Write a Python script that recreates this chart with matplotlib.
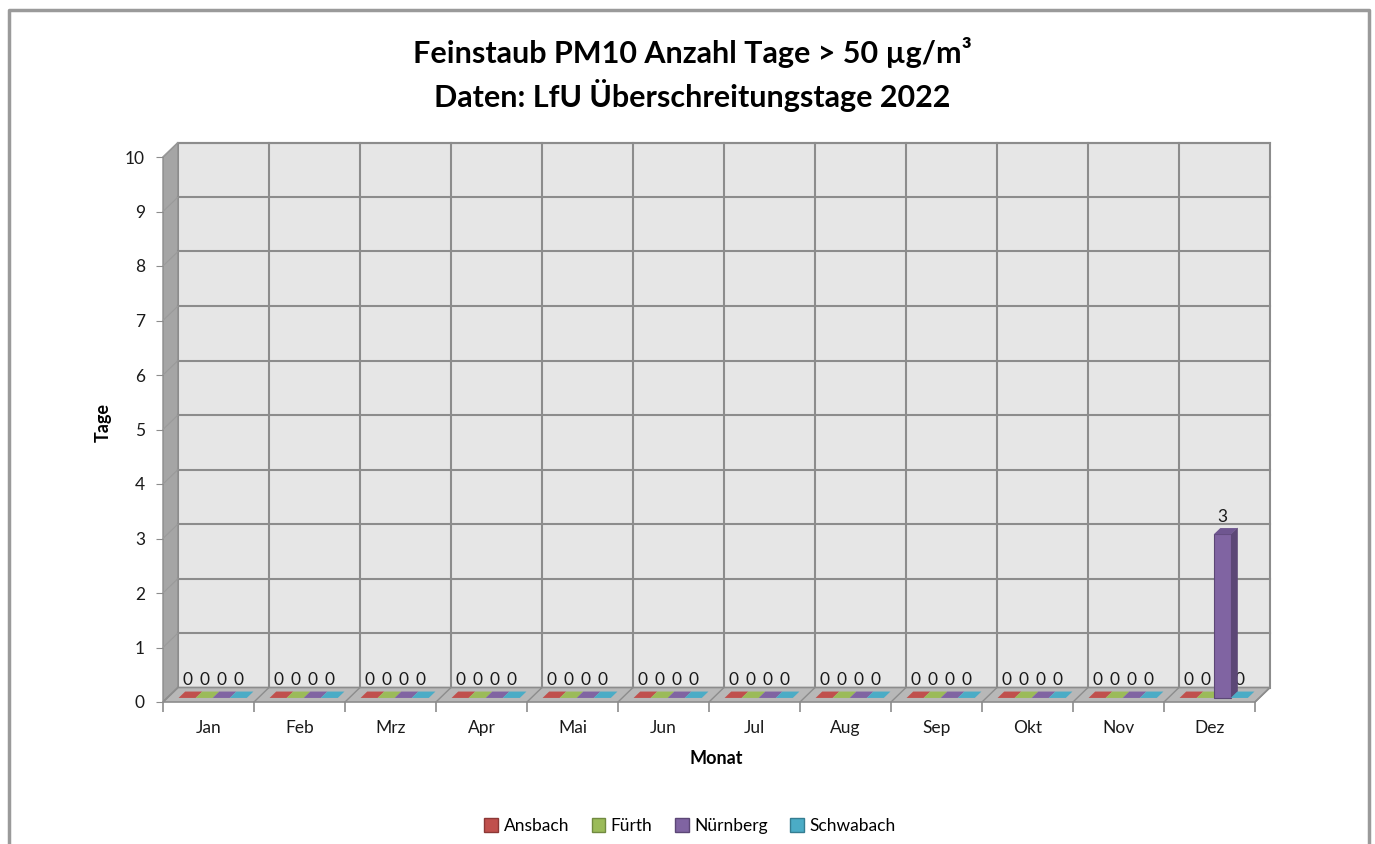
import matplotlib.pyplot as plt
from matplotlib.patches import Polygon, Rectangle, Patch
from matplotlib.lines import Line2D

plt.rcParams['font.family'] = ['Lato', 'DejaVu Sans']

monate = ['Jan', 'Feb', 'Mrz', 'Apr', 'Mai', 'Jun', 'Jul', 'Aug', 'Sep', 'Okt', 'Nov', 'Dez']
staedte = ['Ansbach', 'Fürth', 'Nürnberg', 'Schwabach']
ansbach = [0, 0, 0, 0, 0, 0, 0, 0, 0, 0, 0, 0]
fuerth = [0, 0, 0, 0, 0, 0, 0, 0, 0, 0, 0, 0]
nuernberg = [0, 0, 0, 0, 0, 0, 0, 0, 0, 0, 0, 3]
schwabach = [0, 0, 0, 0, 0, 0, 0, 0, 0, 0, 0, 0]
werte = [ansbach, fuerth, nuernberg, schwabach]

farben = ['#c0504d', '#9bbb59', '#8064a2', '#4bacc6']
seiten = ['#8c3836', '#718a40', '#5c4776', '#357d91']
oben = ['#a8413f', '#87a34c', '#6f5690', '#3f98b0']

W, H = 1375, 844
fig = plt.figure(figsize=(W / 100, H / 100), dpi=100)

# front plane of the 3d box in pixels
x0p, x1p, y0p, y1p = 163, 1255, 702, 157
ax = fig.add_axes([x0p / W, (H - y0p) / H, (x1p - x0p) / W, (y0p - y1p) / H])
ax.set_xlim(0, 12)
ax.set_ylim(0, 10)
for s in ax.spines.values():
    s.set_visible(False)
ax.patch.set_visible(False)

# depth of the box in data units
DX = 15 / ((x1p - x0p) / 12)
DY = 14.5 / ((y0p - y1p) / 10)

grid_c = '#8c8c8c'
# back wall
ax.add_patch(Rectangle((DX, DY), 12, 10, facecolor='#e6e6e6', edgecolor=grid_c, lw=1.5, clip_on=False, zorder=1))
# left wall
ax.add_patch(Polygon([(0, 0), (DX, DY), (DX, 10 + DY), (0, 10)], closed=True,
                     facecolor='#a5a5a5', edgecolor=grid_c, lw=1, clip_on=False, zorder=1))
# floor
ax.add_patch(Polygon([(0, 0), (12, 0), (12 + DX, DY), (DX, DY)], closed=True,
                     facecolor='#b8b8b8', edgecolor=grid_c, lw=1.2, clip_on=False, zorder=2))
for k in range(1, 11):
    ax.add_line(Line2D([DX, 12 + DX], [k + DY, k + DY], color=grid_c, lw=1.5, clip_on=False, zorder=1.5))
    ax.add_line(Line2D([0, DX], [k, k + DY], color='#9a9a9a', lw=0.8, clip_on=False, zorder=1.5))
for i in range(1, 12):
    ax.add_line(Line2D([i + DX, i + DX], [DY, 10 + DY], color=grid_c, lw=1.5, clip_on=False, zorder=1.5))
for i in range(0, 13):
    ax.add_line(Line2D([i, i + DX], [0, DY], color=grid_c, lw=1, clip_on=False, zorder=2.5))

# bars
bw = 0.1875
d0, d1 = 0.28, 0.72
z = 3
for i in range(12):
    for j in range(4):
        v = werte[j][i]
        xl = i + 0.125 + j * bw + d0 * DX
        yb = d0 * DY
        ex = (d1 - d0) * DX
        ey = (d1 - d0) * DY
        if v > 0:
            ax.bar(xl, v, width=bw, bottom=yb, align='edge', color=farben[j], edgecolor=seiten[j], lw=0.8, zorder=z + 1, clip_on=False)
            ax.add_patch(Polygon([(xl + bw, yb), (xl + bw + ex, yb + ey), (xl + bw + ex, yb + ey + v), (xl + bw, yb + v)],
                                 closed=True, facecolor=seiten[j], edgecolor=seiten[j], lw=0.5, zorder=z, clip_on=False))
        ax.add_patch(Polygon([(xl, yb + v), (xl + bw, yb + v), (xl + bw + ex, yb + ey + v), (xl + ex, yb + ey + v)],
                             closed=True, facecolor=oben[j] if v > 0 else farben[j], edgecolor='none', zorder=z + 1, clip_on=False))
        ax.annotate(str(v), (xl + bw / 2, yb + v), xytext=(0, 9), textcoords='offset points',
                    ha='center', va='baseline', fontsize=12.5, color='#1a1a1a', zorder=10, annotation_clip=False)
        z += 2

# axes ticks
ax.set_yticks(range(0, 11))
ax.tick_params(axis='y', length=5, color=grid_c, labelsize=12.5, pad=8, labelcolor='#1a1a1a')
ax.set_xticks(range(0, 13))
ax.set_xticklabels([])
ax.tick_params(axis='x', which='major', length=7, color=grid_c, width=1.2)
ax.set_xticks([i + 0.5 for i in range(12)], minor=True)
ax.set_xticklabels(monate, minor=True)
ax.tick_params(axis='x', which='minor', length=0, labelsize=12.5, pad=13, labelcolor='#1a1a1a')

fig.text(103 / W, 1 - 422 / H, 'Tage', rotation=90, ha='center', va='center', fontsize=13, fontweight='bold')
fig.text(716 / W, 1 - 758 / H, 'Monat', ha='center', va='center', fontsize=13, fontweight='bold')

fig.text(692 / W, 1 - 52 / H, 'Feinstaub PM10 Anzahl Tage > 50 µg/m³', ha='center', va='center', fontsize=22, fontweight='bold')
fig.text(692 / W, 1 - 96 / H, 'Daten: LfU Überschreitungstage 2022', ha='center', va='center', fontsize=22, fontweight='bold')

# outer frame
fig.add_artist(Line2D([9 / W, 9 / W, 1369 / W, 1369 / W], [0, 1 - 10 / H, 1 - 10 / H, 0], transform=fig.transFigure, color='#9a9a9a', lw=2.5))

handles = [Patch(facecolor=farben[j], edgecolor=seiten[j], label=staedte[j]) for j in range(4)]
fig.legend(handles=handles, loc='center', bbox_to_anchor=(690 / W, 1 - 826 / H), ncol=4, frameon=False,
           fontsize=12.5, handlelength=0.8, handleheight=0.8, handletextpad=0.3, columnspacing=1.3)

fig.savefig('out.png', dpi=100)
